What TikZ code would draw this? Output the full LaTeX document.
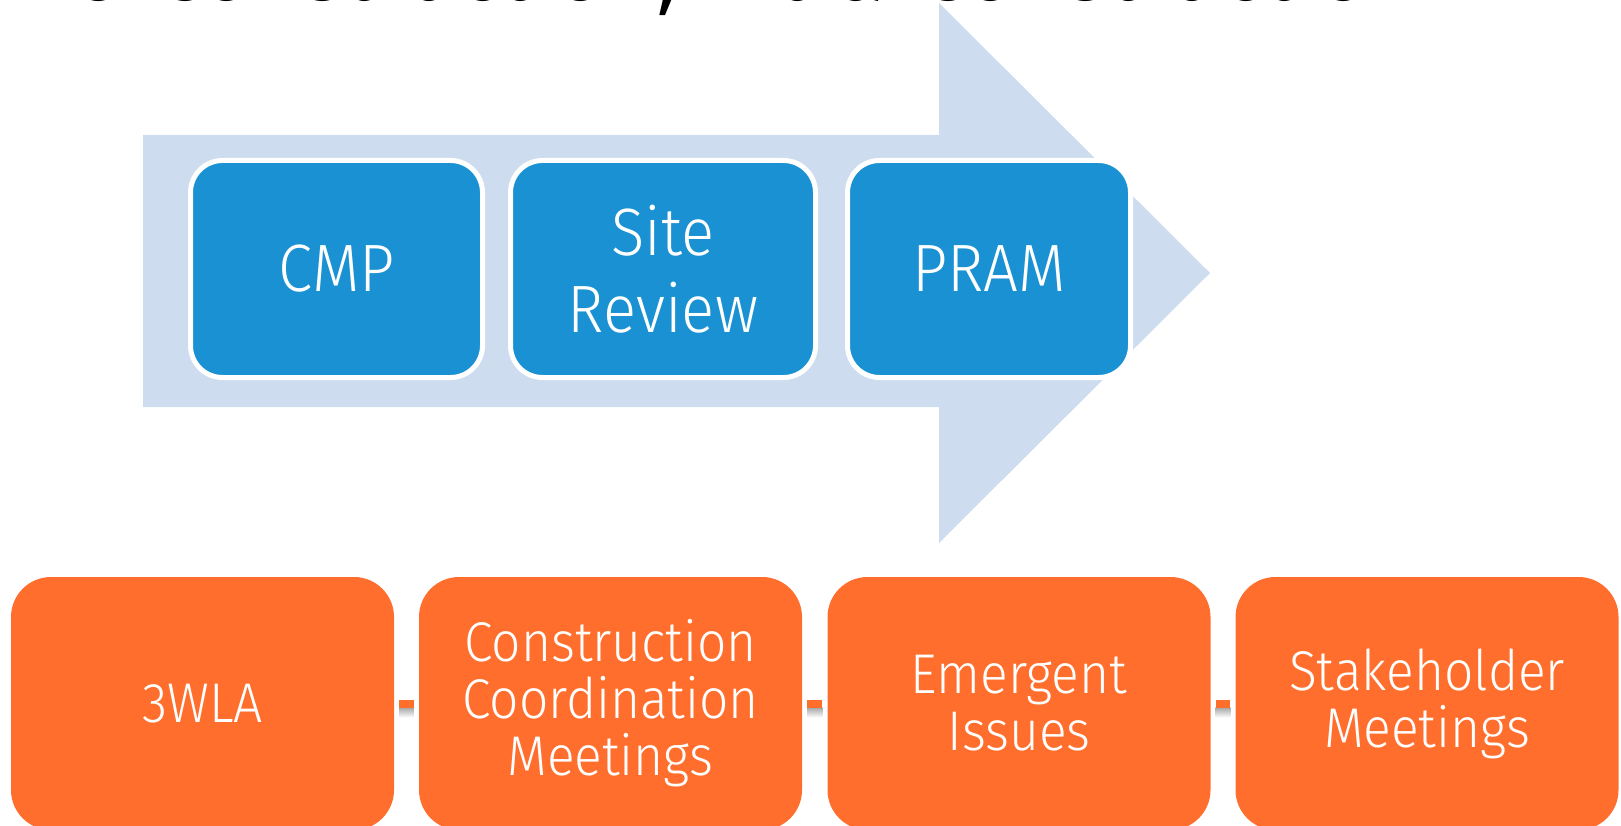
\documentclass[tikz,border=0pt]{standalone}
\usepackage{fontspec}
\setmainfont{Fira Sans Light}[FakeStretch=0.92]
\newfontfamily\titlefont{Fira Sans}[FakeStretch=0.95]
\definecolor{arrowblue}{RGB}{205,220,238}
\definecolor{boxblue}{RGB}{25,145,210}
\definecolor{boxorange}{RGB}{255,110,45}
\begin{document}
\begin{tikzpicture}[x=1pt,y=-1pt,
  bluebox/.style={draw=white, line width=5pt, fill=boxblue, rounded corners=32pt,
    text=white, align=center, inner sep=0pt, minimum height=217pt,
    font=\fontsize{67}{77}\selectfont},
  orangebox/.style={fill=boxorange, rounded corners=40pt, text=white, align=center,
    inner sep=0pt, minimum width=383pt, minimum height=253pt,
    font=\fontsize{56}{57}\selectfont},
  link/.style={draw=boxorange, line width=8pt},
  linkshadow/.style={top color=black!35, bottom color=white}]
\useasboundingbox (0,0) rectangle (1621,826);
\clip (0,0) rectangle (1621,826);
% title (cut off at the top)
\node[anchor=base west, inner sep=0pt, font=\titlefont\fontsize{91}{95}\selectfont] (title) at (155,1)
  {\llap{Pre-}Construction, Intra-Construction};
% big arrow
\fill[arrowblue] (143,135) -- (939,135) -- (939,3) -- (1210,273) -- (939,543)
  -- (939,407) -- (143,407) -- cycle;
% blue steps
\node[bluebox, minimum width=292pt] (cmp) at (336.5,269) {CMP};
\node[bluebox, minimum width=305pt] (site) at (663,269) {Site\\Review};
\node[bluebox, minimum width=283pt] (pram) at (989,269) {PRAM};
% orange boxes
\node[orangebox] (o1) at (202.5,703.5) {3WLA};
\node[orangebox] (o2) at (610.5,703.5) {Construction\\Coordination\\Meetings};
\node[orangebox] (o3) at (1019,703.5) {Emergent\\Issues};
\node[orangebox] (o4) at (1427,703.5) {Stakeholder\\Meetings};
% connectors
\foreach \a/\b in {o1/o2, o2/o3, o3/o4}{
  \shade[linkshadow] ([xshift=5pt,yshift=-4pt]\a.east) rectangle ([xshift=-5pt,yshift=-14pt]\b.west);
  \draw[link] ([xshift=5pt]\a.east) -- ([xshift=-5pt]\b.west);
}
\end{tikzpicture}
\end{document}
